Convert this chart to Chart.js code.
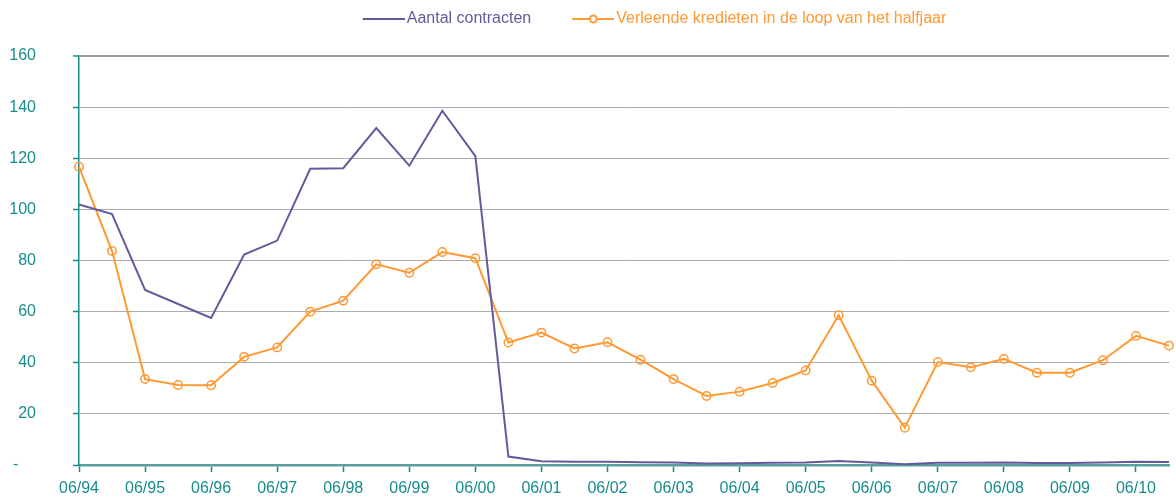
<!DOCTYPE html>
<html>
<head>
<meta charset="utf-8">
<script src="https://cdn.jsdelivr.net/npm/chart.js@4"></script>
<style>
html,body{margin:0;padding:0;background:#fff;}
#wrap{width:1176px;height:498px;}
</style>
</head>
<body>
<div id="wrap"><canvas id="c" width="1176" height="498"></canvas></div>
<script>
const categories = ['06/94','12/94','06/95','12/95','06/96','12/96','06/97','12/97','06/98','12/98','06/99','12/99','06/00','12/00','06/01','12/01','06/02','12/02','06/03','12/03','06/04','12/04','06/05','12/05','06/06','12/06','06/07','12/07','06/08','12/08','06/09','12/09','06/10','12/10'];
const aantalContracten = [101.9, 98.2, 68.5, 63.0, 57.5, 82.3, 87.8, 115.9, 116.1, 131.8, 117.1, 138.6, 120.8, 3.3, 1.5, 1.3, 1.3, 1.1, 1.0, 0.6, 0.7, 0.9, 1.0, 1.6, 1.0, 0.3, 0.9, 0.9, 1.0, 0.8, 0.8, 1.0, 1.3, 1.2];
const verleendeKredieten = [116.7, 83.7, 33.6, 31.3, 31.2, 42.3, 46.0, 60.0, 64.3, 78.5, 75.2, 83.3, 80.9, 47.9, 51.8, 45.6, 48.0, 41.2, 33.6, 27.0, 28.7, 32.1, 37.0, 58.6, 33.0, 14.6, 40.3, 38.2, 41.5, 36.1, 36.1, 41.0, 50.5, 46.7];
const seriesNames = ['Aantal contracten', 'Verleende kredieten in de loop van het halfjaar'];
const yTicks = [0, 20, 40, 60, 80, 100, 120, 140, 160];

const PURPLE = '#605c9b';
const ORANGE = '#ff9933';
const TEAL = '#178c8c';
const FONT = "'Liberation Sans', Arial, sans-serif";

function legendIcon(color, marker) {
  const cv = document.createElement('canvas');
  cv.width = 48; cv.height = 12;
  const g = cv.getContext('2d');
  g.strokeStyle = color; g.lineWidth = 2;
  g.beginPath(); g.moveTo(6, 6); g.lineTo(48, 6); g.stroke();
  if (marker) {
    g.fillStyle = '#fff';
    g.beginPath(); g.arc(27, 6, 3.5, 0, Math.PI * 2); g.fill(); g.stroke();
  }
  return cv;
}
const icons = [legendIcon(PURPLE, false), legendIcon(ORANGE, true)];

const legendShift = {
  id: 'legendShift',
  beforeInit(chart) {
    const orig = chart.legend.fit;
    chart.legend.fit = function () { orig.bind(chart.legend)(); this.height = 55; };
  },
  afterLayout(chart) {
    chart.legend.left += 63;
    chart.legend.right += 63;
    chart.legend.top -= 31;
  }
};

new Chart(document.getElementById('c'), {
  type: 'line',
  data: {
    labels: categories,
    datasets: [
      {
        label: seriesNames[0],
        data: aantalContracten,
        borderColor: PURPLE,
        backgroundColor: PURPLE,
        borderWidth: 2,
        pointRadius: 0,
        tension: 0
      },
      {
        label: seriesNames[1],
        data: verleendeKredieten,
        borderColor: ORANGE,
        backgroundColor: 'rgba(0,0,0,0)',
        borderWidth: 2,
        pointRadius: 4.2,
        pointBorderWidth: 1.5,
        pointBorderColor: ORANGE,
        pointBackgroundColor: 'rgba(0,0,0,0)',
        tension: 0
      }
    ]
  },
  options: {
    responsive: false,
    animation: false,
    devicePixelRatio: 1,
    layout: { padding: { top: 1, left: 10, right: 3, bottom: 0 } },
    plugins: {
      tooltip: { enabled: false },
      legend: {
        position: 'top',
        align: 'center',
        labels: {
          usePointStyle: true,
          pointStyleWidth: 36,
          padding: 41,
          font: { family: FONT, size: 16 },
          generateLabels(chart) {
            return chart.data.datasets.map((ds, i) => ({
              text: ds.label,
              fontColor: i === 0 ? PURPLE : ORANGE,
              fillStyle: 'rgba(0,0,0,0)',
              strokeStyle: 'rgba(0,0,0,0)',
              lineWidth: 0,
              pointStyle: icons[i],
              hidden: false,
              datasetIndex: i
            }));
          }
        }
      }
    },
    scales: {
      x: {
        type: 'category',
        offset: false,
        afterFit(scale) { scale.height = 33; },
        grid: {
          display: true,
          drawOnChartArea: false,
          drawTicks: true,
          tickLength: 7,
          tickWidth: 1.5,
          tickColor: (c) => (c.index % 2 === 0 ? TEAL : 'rgba(0,0,0,0)')
        },
        border: { display: true, color: '#5a9e9e', width: 2.5 },
        ticks: {
          autoSkip: false,
          maxRotation: 0,
          minRotation: 0,
          padding: 7,
          color: TEAL,
          font: { family: FONT, size: 16 },
          callback: function (v, i) { return i % 2 === 0 ? categories[i] : ''; }
        }
      },
      y: {
        min: 0,
        max: 160,
        afterFit(scale) { scale.width = 69; scale.paddingTop = 10; scale.paddingBottom = 10; },
        afterBuildTicks(scale) { scale.ticks = yTicks.map(v => ({ value: v })); },
        grid: {
          color: (c) => (c.tick && c.tick.value === 160 ? '#9a9a9a' : '#ababab'),
          lineWidth: (c) => (c.tick && c.tick.value === 160 ? 2 : 1),
          tickColor: TEAL,
          tickLength: 6,
          tickWidth: 1.5
        },
        border: { display: true, color: TEAL, width: 1.5 },
        ticks: {
          crossAlign: 'near',
          padding: 37,
          color: TEAL,
          font: { family: FONT, size: 16 },
          callback: function (v) { return v === 0 ? '-    ' : String(v); }
        }
      }
    }
  },
  plugins: [legendShift]
});
</script>
</body>
</html>
